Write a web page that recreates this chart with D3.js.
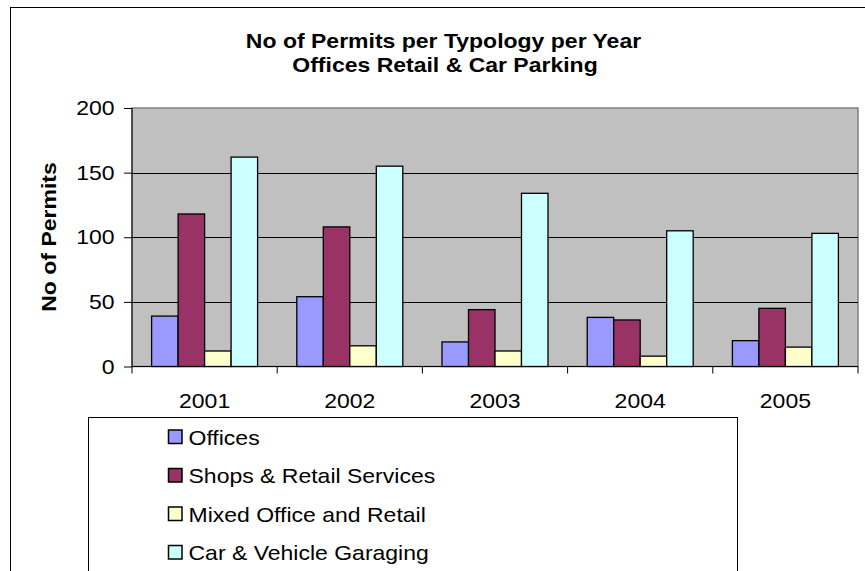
<!DOCTYPE html>
<html>
<head>
<meta charset="utf-8">
<script src="https://cdn.jsdelivr.net/npm/d3@7"></script>
<style>
  html, body { margin: 0; padding: 0; background: #ffffff; }
  svg { display: block; }
  text { font-family: Arial, "Liberation Sans", sans-serif; fill: #000; }
</style>
</head>
<body>
<svg id="chart" width="865" height="571"></svg>
<script>
// Permit counts per building typology, 2001-2005
const years = ["2001", "2002", "2003", "2004", "2005"];
const seriesNames = ["Offices", "Shops & Retail Services", "Mixed Office and Retail", "Car & Vehicle Garaging"];
const offices = [39, 54, 19, 38, 20];
const shopsRetail = [118, 108, 44, 36, 45];
const mixedOfficeRetail = [12, 16, 12, 8, 15];
const carGaraging = [162, 155, 134, 105, 103];
const yTicks = [0, 50, 100, 150, 200];
const titleLines = ["No of Permits per Typology per Year", "Offices Retail & Car Parking"];
const yAxisTitle = "No of Permits";

const seriesValues = [offices, shopsRetail, mixedOfficeRetail, carGaraging];
const seriesColors = ["#9999FF", "#993366", "#FFFFCC", "#CCFFFF"];

const svg = d3.select("#chart");
const FONT = 20, SX = 1.15; // wide Excel-style glyphs

// helper: horizontally stretched text
function label(g, x, y, str, opts = {}) {
  const rot = opts.rotate ? ` rotate(${opts.rotate})` : "";
  return g.append("text")
    .attr("transform", `translate(${x},${y})${rot} scale(${SX},1)`)
    .attr("text-anchor", opts.anchor || "start")
    .attr("font-size", FONT)
    .attr("font-weight", opts.bold ? "bold" : "normal")
    .text(str);
}

// chart frame
svg.append("rect")
  .attr("x", 10.5).attr("y", 7.5)
  .attr("width", 900).attr("height", 600)
  .attr("fill", "#fff").attr("stroke", "#000").attr("stroke-width", 1);

// plot area
const plot = { left: 132, right: 858, top: 108, bottom: 366.5 };

const x = d3.scaleBand().domain(years).range([plot.left, plot.right]).paddingInner(0).paddingOuter(0);
const xs = d3.scaleBand().domain(d3.range(seriesNames.length)).range([0, x.bandwidth()])
  .paddingInner(0).paddingOuter(0.74);
const y = d3.scaleLinear().domain([0, 200]).range([plot.bottom, plot.top]);

svg.append("rect")
  .attr("x", plot.left).attr("y", plot.top)
  .attr("width", plot.right - plot.left).attr("height", plot.bottom - plot.top)
  .attr("fill", "#C0C0C0").attr("stroke", "#808080").attr("stroke-width", 1.5);

// gridlines
svg.append("g").selectAll("line")
  .data(yTicks.filter(t => t > 0 && t < 200))
  .join("line")
  .attr("x1", plot.left).attr("x2", plot.right)
  .attr("y1", d => Math.round(y(d)) + 0.5).attr("y2", d => Math.round(y(d)) + 0.5)
  .attr("stroke", "#000").attr("stroke-width", 1);

// bars
const groups = svg.append("g").selectAll("g")
  .data(years)
  .join("g")
  .attr("transform", d => `translate(${x(d)},0)`);

groups.selectAll("rect")
  .data((yr, i) => seriesValues.map((vals, s) => ({ s, v: vals[i] })))
  .join("rect")
  .attr("x", d => xs(d.s))
  .attr("y", d => y(d.v))
  .attr("width", xs.bandwidth())
  .attr("height", d => y(0) - y(d.v))
  .attr("fill", d => seriesColors[d.s])
  .attr("stroke", "#000").attr("stroke-width", 1.3);

// y axis
const yAxis = d3.axisLeft(y).tickValues(yTicks).tickSize(8).tickFormat("");
const yg = svg.append("g").attr("transform", `translate(${plot.left},0)`).call(yAxis);
yg.select(".domain").attr("stroke", "#000").attr("d", `M0,${plot.top}V${plot.bottom}`);
yg.selectAll(".tick line").attr("stroke", "#000");
yTicks.forEach(t => label(svg, 114.5, y(t) + 7, String(t), { anchor: "end" }));

// x axis
const xAxis = d3.axisBottom(x).tickSize(0).tickFormat("");
const xg = svg.append("g").attr("transform", `translate(0,${plot.bottom})`).call(xAxis);
xg.select(".domain").attr("stroke", "#000").attr("d", `M${plot.left},0H${plot.right}`);
xg.selectAll(".tick").remove();
const bounds = years.map(d => x(d)).concat([plot.right]);
xg.selectAll("line.sep").data(bounds).join("line")
  .attr("class", "sep")
  .attr("x1", d => d).attr("x2", d => d)
  .attr("y1", 0).attr("y2", 7)
  .attr("stroke", "#000");
years.forEach(yr => label(svg, x(yr) + x.bandwidth() / 2, 408, yr, { anchor: "middle" }));

// titles
label(svg, 443.5, 47.5, titleLines[0], { anchor: "middle", bold: true });
label(svg, 445, 71.5, titleLines[1], { anchor: "middle", bold: true });
label(svg, 56, 237, yAxisTitle, { anchor: "middle", bold: true, rotate: -90 });

// legend
svg.append("rect")
  .attr("x", 88.5).attr("y", 417.5)
  .attr("width", 649).attr("height", 300)
  .attr("fill", "#fff").attr("stroke", "#000").attr("stroke-width", 1);

const legendRows = [437, 475.5, 514, 552.5];
seriesNames.forEach((name, i) => {
  svg.append("rect")
    .attr("x", 168.5).attr("y", legendRows[i] - 7)
    .attr("width", 13.5).attr("height", 13.5)
    .attr("fill", seriesColors[i])
    .attr("stroke", "#000").attr("stroke-width", 1.5);
  label(svg, 188.5, legendRows[i] + 7.5, name);
});
</script>
</body>
</html>
